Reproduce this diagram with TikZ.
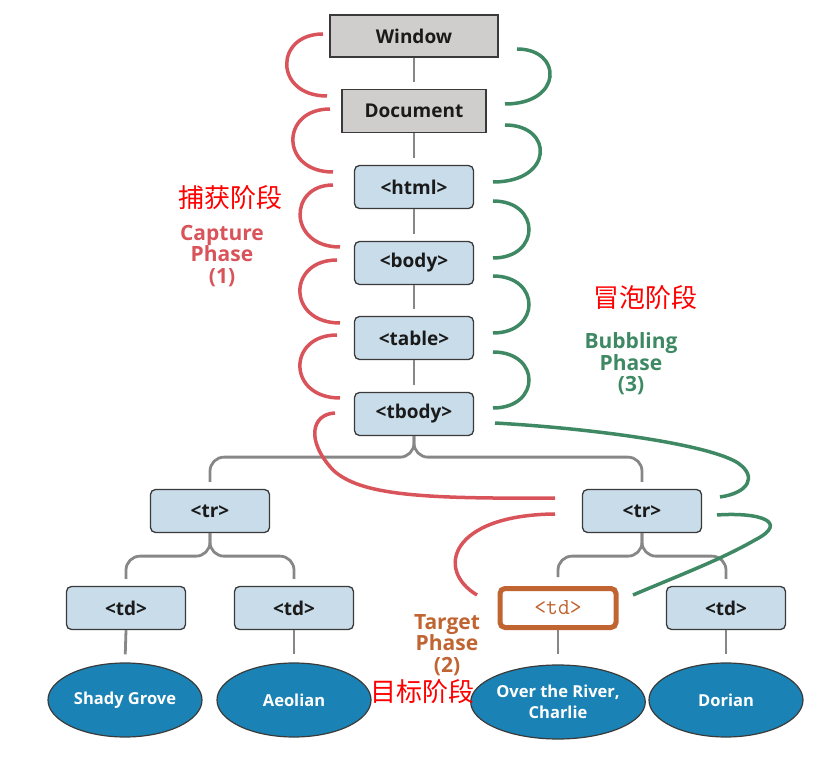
\documentclass[tikz,border=0pt]{standalone}
\usepackage{fontspec}
\setmainfont{Open Sans}
\newfontfamily\cjk{Noto Sans CJK SC}
\usetikzlibrary{calc,shapes.geometric}
\definecolor{capred}{HTML}{D9535A}
\definecolor{bubgreen}{HTML}{3E8964}
\definecolor{tgtorange}{HTML}{C06432}
\definecolor{grayfill}{HTML}{D0CECC}
\definecolor{bluefill}{HTML}{C8DCEA}
\definecolor{ellfill}{HTML}{1A82B4}
\definecolor{connGray}{HTML}{878787}
\definecolor{darkline}{HTML}{3A3A3A}
\definecolor{textdark}{HTML}{1A1A1A}
\tikzset{
  graybox/.style={draw=darkline, fill=grayfill, line width=1.3pt, inner sep=0pt,
    font=\bfseries\fontsize{19}{21}\selectfont, text=textdark},
  bluebox/.style={graybox, fill=bluefill, rounded corners=5pt, minimum width=119pt, minimum height=43pt},
  tgtbox/.style={draw=tgtorange, fill=white, line width=5pt, rounded corners=5pt, inner sep=0pt,
    minimum width=116pt, minimum height=39pt, text=tgtorange, font=\ttfamily\fontsize{23}{24}\selectfont},
  leaf/.style={ellipse, draw=darkline, fill=ellfill, line width=1.2pt, inner sep=0pt,
    minimum width=154pt, minimum height=74pt, text=white, align=center,
    font=\bfseries\fontsize{16.5}{21.5}\selectfont},
  conn/.style={draw=connGray, line width=2.8pt},
  tree/.style={conn, rounded corners=14pt},
  caparc/.style={draw=capred, line width=3.5pt},
  bubarc/.style={draw=bubgreen, line width=3.5pt},
  phaselbl/.style={font=\bfseries\fontsize{21}{21.5}\selectfont, align=center},
  cjklbl/.style={font=\cjk\fontsize{26}{28}\selectfont, text=red},
}
\begin{document}
\begin{tikzpicture}[x=1pt,y=-1pt]
\useasboundingbox (0,0) rectangle (823,767);
% nodes
\node[graybox, minimum width=168pt, minimum height=42pt] (win) at (414,36) {Window};
\node[graybox, minimum width=144pt, minimum height=43pt] (doc) at (414,111) {Document};
\node[bluebox] (html) at (414,187) {<html>};
\node[bluebox] (body) at (414,263) {<body>};
\node[bluebox] (table) at (414,338) {<table>};
\node[bluebox] (tbody) at (414,414) {<tbody>};
\node[bluebox] (trL) at (210,511) {<tr>};
\node[bluebox] (trR) at (642,511) {<tr>};
\node[bluebox] (td1) at (126,608) {<td>};
\node[bluebox] (td2) at (294,608) {<td>};
\node[tgtbox] (tdT) at (558,608) {<td>};
\node[bluebox] (td4) at (726,608) {<td>};
\node[leaf] (e1) at (125,700) {Shady Grove};
\node[leaf] (e2) at (294,700) {Aeolian};
\node[leaf] (e3) at (558,702) {Over the River,\\Charlie};
\node[leaf] (e4) at (726,700) {Dorian};
% tree connectors
\draw[conn, shorten >=7pt] (win.south) -- (doc.north);
\draw[conn, shorten >=7pt] (doc.south) -- (html.north);
\draw[conn, shorten >=7pt] (html.south) -- (body.north);
\draw[conn, shorten >=7pt] (body.south) -- (table.north);
\draw[conn, shorten >=7pt] (table.south) -- (tbody.north);
\draw[tree] (tbody.south) -- ++(0,21) -| ($(trL.north)+(0,-7)$);
\draw[tree] (tbody.south) -- ++(0,21) -| ($(trR.north)+(0,-7)$);
\draw[tree] (trL.south) -- ++(0,23) -| ($(td1.north)+(0,-7)$);
\draw[tree] (trL.south) -- ++(0,23) -| ($(td2.north)+(0,-7)$);
\draw[tree] (trR.south) -- ++(0,23) -| ($(tdT.north)+(0,-9)$);
\draw[tree] (trR.south) -- ++(0,23) -| ($(td4.north)+(0,-7)$);
\draw[conn, shorten >=8pt] (td1.south) -- (e1.north);
\draw[conn, shorten >=8pt] (td2.south) -- (e2.north);
\draw[conn, shorten >=10pt] (tdT.south) -- (e3.north);
\draw[conn, shorten >=8pt] (td4.south) -- (e4.north);
% capture arcs
\draw[caparc] (323,34) .. controls (274,34) and (274,96) .. (327,96);
\draw[caparc] (330,109) .. controls (280,109) and (280,172) .. (333,172);
\draw[caparc] (333,185) .. controls (288,185) and (288,247) .. (340,247);
\draw[caparc] (337,260) .. controls (287,260) and (287,323) .. (340,323);
\draw[caparc] (337,335) .. controls (287,335) and (287,398) .. (340,398);
\draw[caparc] (335,413) .. controls (312,414) and (305,440) .. (333,470)
   .. controls (360,495) and (420,499) .. (555,498);
\draw[caparc] (555,514) .. controls (450,515) and (435,570) .. (477,595);
% bubbling arcs
\draw[bubarc] (517,49) .. controls (563,49) and (563,104) .. (505,104);
\draw[bubarc] (505,125) .. controls (554,125) and (554,182) .. (493,182);
\draw[bubarc] (493,201) .. controls (541,201) and (541,258) .. (493,258);
\draw[bubarc] (493,276) .. controls (541,276) and (541,333) .. (493,333);
\draw[bubarc] (493,352) .. controls (541,352) and (541,408) .. (493,408);
\draw[bubarc] (495,423) .. controls (600,429) and (710,445) .. (738,463)
   .. controls (758,477) and (748,493) .. (720,497);
\draw[bubarc] (717,515) .. controls (760,512) and (790,522) .. (755,540)
   .. controls (720,560) and (680,575) .. (633,595);
% labels
\node[cjklbl] (capcn) at (230,198) {捕获阶段};
\node[phaselbl, text=capred] (caplbl) at (222,256) {Capture\\Phase\\(1)};
\node[phaselbl, text=bubgreen] (bublbl) at (631,364) {Bubbling\\Phase\\(3)};
\node[cjklbl] (bubcn) at (645,298) {冒泡阶段};
\node[phaselbl, text=tgtorange] (tgtlbl) at (447,645) {Target\\Phase\\(2)};
\node[cjklbl] (tgtcn) at (422,692) {目标阶段};
\end{tikzpicture}
\end{document}
